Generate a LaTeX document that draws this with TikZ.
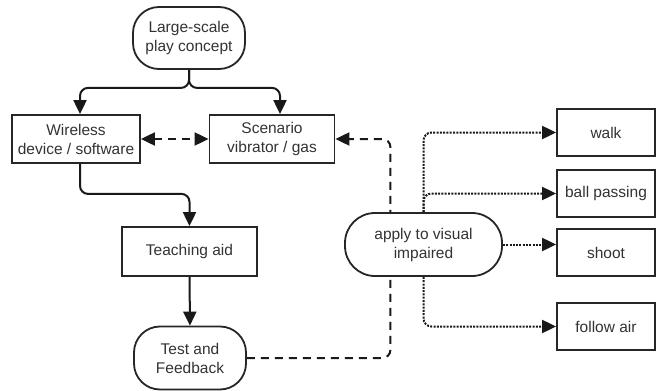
\documentclass[tikz,border=0pt]{standalone}
\usepackage{fontspec}
\setmainfont{Liberation Sans}
\usetikzlibrary{arrows.meta,backgrounds}
\begin{document}
\begin{tikzpicture}[x=1pt,y=-1pt,
  every node/.style={font=\fontsize{15.5}{19}\selectfont, align=center, text=black!80, draw=black!85, line width=1.8pt, fill=white, inner sep=0pt},
  boxn/.style={rectangle, minimum height=48pt},
  pill/.style={rectangle, rounded corners=26pt},
  conn/.style={line width=2pt, draw=black!90, rounded corners=8pt},
  tip/.style={Triangle[length=14pt,width=13pt]},
  arr/.style={-{Triangle[length=14pt,width=13pt]}},
  dsh/.style={dash pattern=on 8pt off 6pt},
  dot/.style={line width=2pt, dash pattern=on 2pt off 1.3pt}]
\useasboundingbox (0,0) rectangle (657,391);
\node[pill, minimum width=112pt, minimum height=62pt] (big) at (189,38) {Large-scale\\play concept};
\node[boxn, minimum width=128pt] (wl) at (76,139) {Wireless\\device / software};
\node[boxn, minimum width=125pt] (sc) at (272,139) {Scenario\\vibrator / gas};
\node[boxn, minimum width=135pt, minimum height=49pt] (ta) at (189.5,251.5) {Teaching aid};
\node[pill, minimum width=112pt, minimum height=63pt] (tf) at (190,358) {Test and\\Feedback};
\node[pill, rounded corners=30pt, minimum width=157pt, minimum height=63pt] (ap) at (423.5,244.5) {apply to visual\\impaired};
\node[boxn, minimum width=98pt, minimum height=47pt] (walk) at (606,132.5) {walk};
\node[boxn, minimum width=98pt, minimum height=47pt] (bp) at (606,193.5) {ball passing};
\node[boxn, minimum width=98pt, minimum height=47pt] (sh) at (606,252.5) {shoot};
\node[boxn, minimum width=98pt, minimum height=47pt] (fa) at (606,326.5) {follow air};
\draw[conn,arr] (big.south) -- ++(0,18) -| ([xshift=4pt]wl.north);
\draw[conn,arr] (big.south) -- ++(0,18) -| ([xshift=8pt]sc.north);
\draw[conn,dsh,{Triangle[length=14pt,width=13pt]}-{Triangle[length=14pt,width=13pt]}, rounded corners=0pt] (wl.east) -- (sc.west);
\draw[conn,arr] ([xshift=4pt]wl.south) -- ++(0,30) -| (ta.north);
\draw[conn,arr] (ta.south) -- (tf.north);
\begin{scope}[on background layer]
\draw[conn,dsh,arr] (tf.east) -| ([xshift=55pt]sc.east) -- (sc.east);
\end{scope}
\draw[conn,dot,arr] (ap.north) |- (walk.west);
\draw[conn,dot,arr] (ap.north) |- (bp.west);
\draw[conn,dot,arr,rounded corners=0pt] (ap.east) -- (ap.east -| sh.west);
\draw[conn,dot,arr] (ap.south) |- (fa.west);
\end{tikzpicture}
\end{document}
